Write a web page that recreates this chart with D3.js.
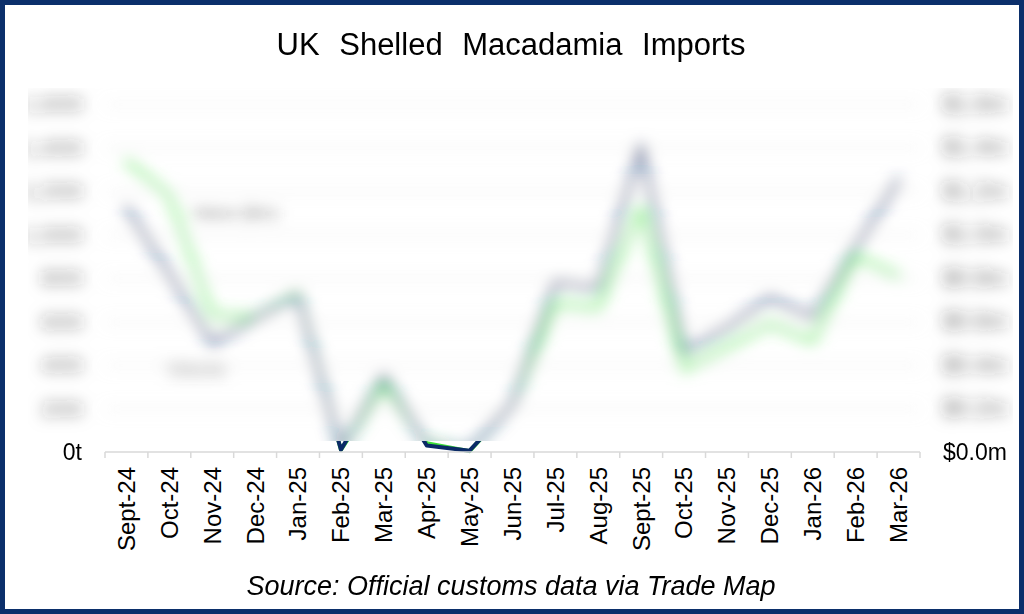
<!DOCTYPE html>
<html>
<head>
<meta charset="utf-8">
<script src="https://cdn.jsdelivr.net/npm/d3@7"></script>
<style>
  body { margin: 0; background: #fff; }
  svg { display: block; font-family: "Liberation Sans", Arial, sans-serif; }
</style>
</head>
<body>
<svg id="chart" width="1024" height="614"></svg>
<script>
var months = ["Sept-24", "Oct-24", "Nov-24", "Dec-24", "Jan-25", "Feb-25", "Mar-25",
    "Apr-25", "May-25", "Jun-25", "Jul-25", "Aug-25", "Sept-25", "Oct-25", "Nov-25",
    "Dec-25", "Jan-26", "Feb-26", "Mar-26"];

// volume, tonnes (left axis)
var volume = [1126, 820, 500, 616, 720, 10, 350, 30, 6, 220, 780, 750, 1410, 460, 570,
    710, 620, 940, 1250];

// value, US$ million (right axis)
var value = [1.34, 1.18, 0.63, 0.62, 0.73, 0.01, 0.31, 0.04, 0.004, 0.22, 0.68, 0.66,
    1.12, 0.38, 0.48, 0.59, 0.51, 0.90, 0.81];

var volTicks = [0, 200, 400, 600, 800, 1000, 1200, 1400, 1600];
var valTicks = [0, 0.2, 0.4, 0.6, 0.8, 1.0, 1.2, 1.4, 1.6];

var svg = d3.select("#chart"),
    plotLeft = 105, plotRight = 920, plotTop = 104, plotBottom = 452,
    cut = 441;   // everything above this line sits under the frosted blur

var x = d3.scaleBand().domain(months).range([plotLeft, plotRight]),
    yVol = d3.scaleLinear().domain([0, 1600]).range([plotBottom, plotTop]),
    yVal = d3.scaleLinear().domain([0, 1.6]).range([plotBottom, plotTop]),
    cx = function (m) { return x(m) + x.bandwidth() / 2; };

var defs = svg.append("defs");
defs.append("filter")
    .attr("id", "frost")
    .attr("filterUnits", "userSpaceOnUse")
    .attr("x", 0).attr("y", 0).attr("width", 1024).attr("height", 614)
    .append("feGaussianBlur")
    .attr("stdDeviation", 7.5);
defs.append("clipPath").attr("id", "topClip")
    .append("rect").attr("x", 28).attr("y", 88).attr("width", 985).attr("height", cut - 88);
defs.append("clipPath").attr("id", "lowClip")
    .append("rect").attr("x", 0).attr("y", cut).attr("width", 1024).attr("height", 40);

var volLine = d3.line()
    .x(function (d, i) { return cx(months[i]); })
    .y(function (d) { return yVol(d); });
var valLine = d3.line()
    .x(function (d, i) { return cx(months[i]); })
    .y(function (d) { return yVal(d); });

var drawLines = function (g, w) {
    g.append("path")
        .attr("d", valLine(value))
        .attr("fill", "none")
        .attr("stroke", "#3fe03a")
        .attr("stroke-width", w)
        .attr("stroke-linejoin", "round")
        .attr("stroke-linecap", "round");
    g.append("path")
        .attr("d", volLine(volume))
        .attr("fill", "none")
        .attr("stroke", "#0b2a66")
        .attr("stroke-width", w)
        .attr("stroke-linejoin", "round")
        .attr("stroke-linecap", "round");
};

// frosted part: grid, tick labels, series names, lines
var frostBox = svg.append("g").attr("clip-path", "url(#topClip)");
var frost = frostBox.append("g").attr("filter", "url(#frost)");

frost.append("g")
    .attr("transform", "translate(" + plotLeft + ",0)")
    .call(d3.axisLeft(yVol).tickValues(volTicks.slice(1)).tickSize(-(plotRight - plotLeft)).tickFormat(""))
    .call(function (g) {
        g.select(".domain").remove();
        g.selectAll(".tick line").attr("stroke", "#d0d0d0").attr("stroke-width", 1.5);
    });

frost.append("g")
    .attr("transform", "translate(82,0)")
    .call(d3.axisLeft(yVol).tickValues(volTicks.slice(1)).tickSize(0)
        .tickFormat(function (d) { return d3.format(",")(d) + "t"; }))
    .call(function (g) {
        g.select(".domain").remove();
        g.selectAll("text").attr("x", 0).attr("font-size", 21).attr("fill", "#222")
            .attr("font-family", "Liberation Sans, Arial, sans-serif");
    });

frost.append("g")
    .attr("transform", "translate(943,0)")
    .call(d3.axisRight(yVal).tickValues(valTicks.slice(1)).tickSize(0)
        .tickFormat(function (d) { return "$" + d3.format(".1f")(d) + "m"; }))
    .call(function (g) {
        g.select(".domain").remove();
        g.selectAll("text").attr("x", 0).attr("font-size", 23).attr("fill", "#222")
            .attr("font-family", "Liberation Sans, Arial, sans-serif");
    });

frost.append("text")
    .attr("x", cx("Oct-24") + 22).attr("y", yVal(value[1]) + 24)
    .attr("font-size", 18).attr("fill", "#333")
    .text("Value ($m)");
frost.append("text")
    .attr("x", cx("Nov-24") - 46).attr("y", yVol(volume[2]) + 32)
    .attr("font-size", 18).attr("fill", "#333")
    .text("Volume");

drawLines(frost, 5);

// milky wash over the blurred part
frostBox.append("rect")
    .attr("x", 0).attr("y", 0).attr("width", 1024).attr("height", cut)
    .attr("fill", "#fff").attr("opacity", 0.35);

// sharp part right above the axis
drawLines(svg.append("g").attr("clip-path", "url(#lowClip)"), 4);

// x axis with ticks on the band edges
var edges = months.map(function (m) { return x(m); }).concat([plotRight]);
svg.append("line")
    .attr("x1", plotLeft).attr("x2", plotRight)
    .attr("y1", plotBottom).attr("y2", plotBottom)
    .attr("stroke", "#d9d9d9").attr("stroke-width", 1.5);
svg.append("g").selectAll("line")
    .data(edges)
    .enter()
    .append("line")
    .attr("x1", function (d) { return d; })
    .attr("x2", function (d) { return d; })
    .attr("y1", plotBottom).attr("y2", plotBottom + 6)
    .attr("stroke", "#d9d9d9").attr("stroke-width", 1.5);

svg.append("g").selectAll("text")
    .data(months)
    .enter()
    .append("text")
    .attr("transform", function (m) { return "translate(" + cx(m) + ",467) rotate(-90)"; })
    .attr("text-anchor", "end")
    .attr("dy", "0.35em")
    .attr("font-size", 24)
    .attr("fill", "#000")
    .text(function (m) { return m; });

svg.append("text")
    .attr("x", 82).attr("y", yVol(0)).attr("dy", "0.35em")
    .attr("text-anchor", "end").attr("font-size", 23)
    .text(volTicks[0] + "t");
svg.append("text")
    .attr("x", 943).attr("y", yVal(0)).attr("dy", "0.35em")
    .attr("font-size", 23)
    .text("$" + d3.format(".1f")(valTicks[0]) + "m");

svg.append("text")
    .attr("x", 511).attr("y", 55)
    .attr("text-anchor", "middle")
    .attr("font-size", 31)
    .attr("word-spacing", 11)
    .text("UK Shelled Macadamia Imports");

svg.append("text")
    .attr("x", 511).attr("y", 595)
    .attr("text-anchor", "middle")
    .attr("font-size", 27)
    .attr("font-style", "italic")
    .text("Source: Official customs data via Trade Map");

svg.append("rect")
    .attr("x", 2.5).attr("y", 2.5)
    .attr("width", 1019).attr("height", 609)
    .attr("fill", "none")
    .attr("stroke", "#0b2f6b")
    .attr("stroke-width", 5);
</script>
</body>
</html>
